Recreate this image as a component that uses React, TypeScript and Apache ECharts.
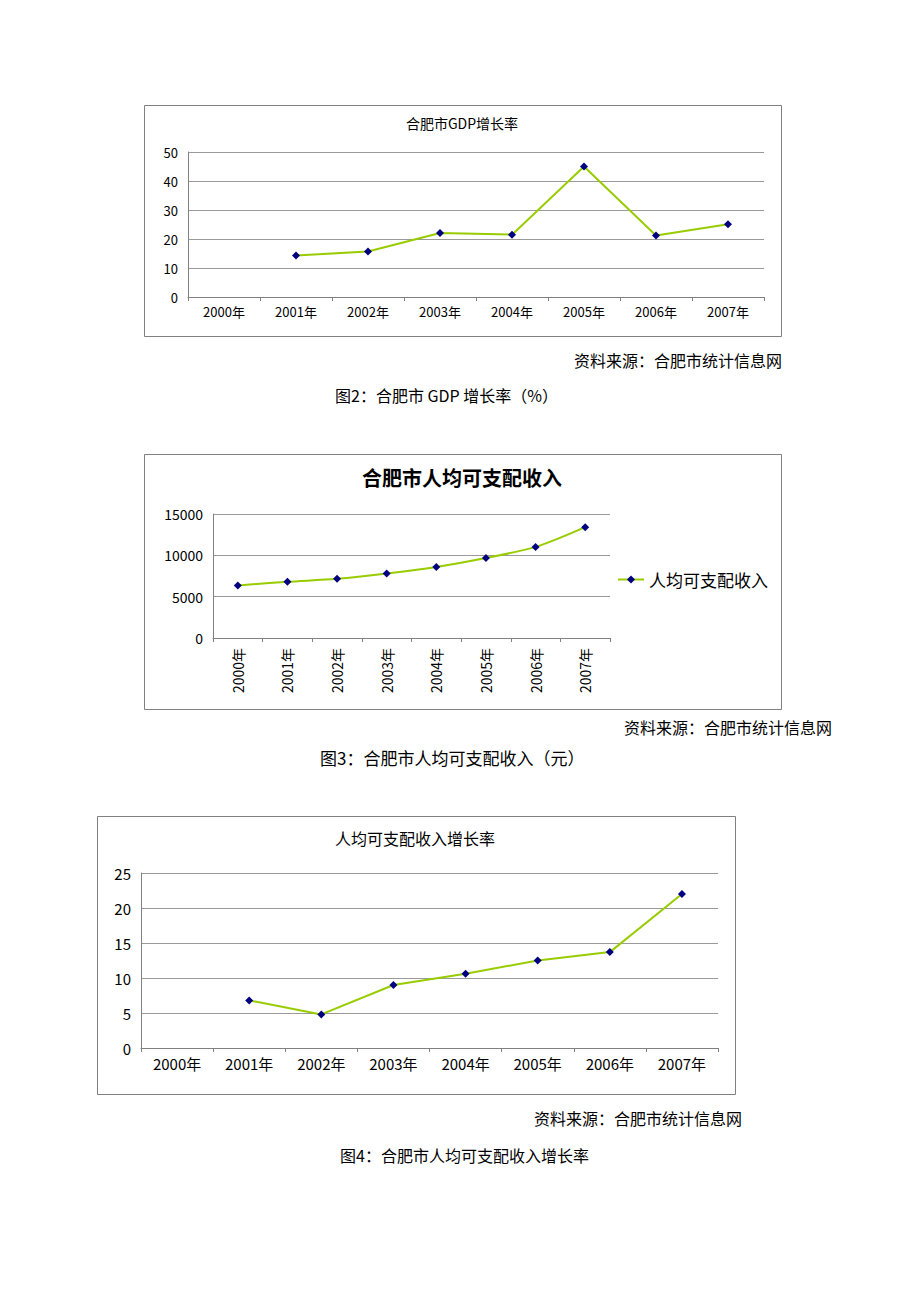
import React, { useEffect, useRef } from "react";
import * as echarts from "echarts";

const years = ["2000年", "2001年", "2002年", "2003年", "2004年", "2005年", "2006年", "2007年"];
const gdpGrowth: (number | null)[] = [null, 14.3, 15.7, 22.1, 21.5, 45.0, 21.2, 25.1];
const income: number[] = [6360, 6800, 7160, 7800, 8600, 9680, 11020, 13410];
const incomeGrowth: (number | null)[] = [null, 6.8, 4.8, 9.0, 10.6, 12.5, 13.7, 22.0];

const title1 = "合肥市GDP增长率";
const title2 = "合肥市人均可支配收入";
const title3 = "人均可支配收入增长率";
const legendName = "人均可支配收入";
const sourceText = "资料来源：合肥市统计信息网";
const caption2 = "图2：合肥市 GDP 增长率（%）";
const caption3 = "图3：合肥市人均可支配收入（元）";
const caption4 = "图4：合肥市人均可支配收入增长率";

const FONT = '"Noto Sans CJK SC", "DejaVu Sans", sans-serif';
const LINE = "#99cc00";
const MARK = "#000080";
const GRID = "#9a9a9a";

function axisPair(gridIndex: number, max: number, interval: number, fontSize: number, rotate = 0, xMargin = 8) {
  return {
    x: {
      type: "category",
      gridIndex,
      data: years,
      boundaryGap: true,
      axisLine: { lineStyle: { color: "#808080", width: 1 } },
      axisTick: { show: true, length: 4, inside: false, lineStyle: { color: "#808080" } },
      axisLabel: { color: "#000", fontSize, fontFamily: FONT, rotate, margin: xMargin, interval: 0 },
      splitLine: { show: false },
    },
    y: {
      type: "value",
      gridIndex,
      min: 0,
      max,
      interval,
      axisLine: { show: true, lineStyle: { color: "#808080", width: 1 } },
      axisTick: { show: false },
      axisLabel: {
        color: "#000",
        fontSize,
        fontFamily: FONT,
        margin: 10,
        formatter: (v: number) => String(v),
      },
      splitLine: { show: true, lineStyle: { color: GRID, width: 1 } },
    },
  };
}

export default function App() {
  const ref = useRef<HTMLDivElement>(null);
  useEffect(() => {
    if (!ref.current) return;
    const chart = echarts.init(ref.current, undefined, { renderer: "svg" });
    const a1 = axisPair(0, 50, 10, 13);
    const a2 = axisPair(1, 15000, 5000, 14, 90, 10);
    const a3 = axisPair(2, 25, 5, 15);
    const seriesCommon = {
      type: "line",
      symbol: "diamond",
      symbolSize: 8,
      lineStyle: { color: LINE, width: 2 },
      itemStyle: { color: MARK },
      connectNulls: false,
    };
    const text = (x: number, y: number, t: string, size: number, align = "left", weight = "normal") => ({
      type: "text",
      x,
      y,
      style: {
        text: t,
        fill: "#000",
        font: `${weight} ${size}px ${FONT}`,
        textAlign: align,
        textVerticalAlign: "middle",
      },
    });
    const box = (x: number, y: number, w: number, h: number) => ({
      type: "rect",
      shape: { x, y, width: w, height: h },
      style: { fill: "none", stroke: "#808080", lineWidth: 1 },
      silent: true,
    });
    chart.setOption({
      animation: false,
      backgroundColor: "#fff",
      grid: [
        { left: 188, top: 152, width: 576, height: 145 },
        { left: 213, top: 514, width: 397, height: 124 },
        { left: 141, top: 873, width: 577, height: 175 },
      ],
      xAxis: [a1.x, a2.x, a3.x],
      yAxis: [a1.y, a2.y, a3.y],
      legend: {
        show: true,
        data: [legendName],
        left: 612,
        top: 566,
        itemWidth: 26,
        itemHeight: 10,
        textStyle: { fontSize: 17, fontFamily: FONT, color: "#000" },
      },
      series: [
        { ...seriesCommon, name: "GDP增长率", xAxisIndex: 0, yAxisIndex: 0, data: gdpGrowth },
        { ...seriesCommon, name: legendName, xAxisIndex: 1, yAxisIndex: 1, data: income, smooth: 0.3 },
        { ...seriesCommon, name: "增长率", xAxisIndex: 2, yAxisIndex: 2, data: incomeGrowth },
      ],
      graphic: [
        box(144.5, 105.5, 637, 231),
        box(144.5, 454.5, 637, 255),
        box(97.5, 816.5, 638, 278),
        text(462, 123, title1, 14, "center"),
        text(462, 477, title2, 20, "center", "bold"),
        text(415, 838, title3, 16, "center"),
        text(782, 360, sourceText, 16, "right"),
        text(335, 395, caption2, 16, "left"),
        text(832, 727, sourceText, 16, "right"),
        text(320, 757, caption3, 17, "left"),
        text(742, 1118, sourceText, 16, "right"),
        text(340, 1155, caption4, 16, "left"),
      ],
    });
    return () => chart.dispose();
  }, []);
  return (
    <div
      ref={ref}
      style={{ position: "absolute", left: 0, top: 0, width: 920, height: 1302, background: "#fff" }}
    />
  );
}
